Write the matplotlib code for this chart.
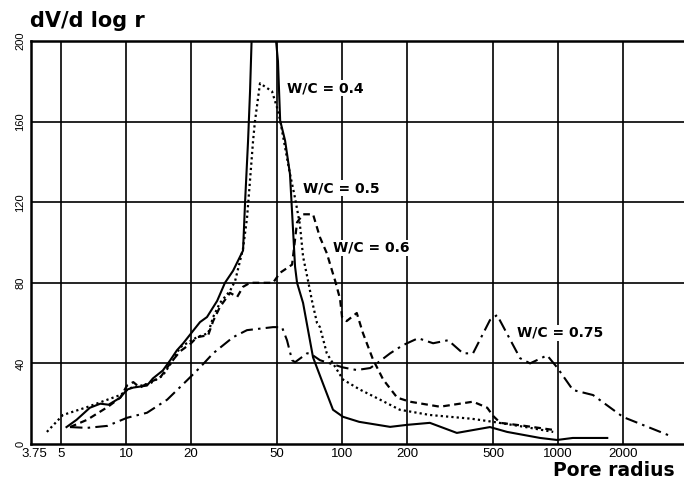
import matplotlib
matplotlib.use("Agg")
import matplotlib.pyplot as plt

# ---- data (pore radius r, dV/d log r) ----
r_04 = [5.3, 5.9, 6.8, 7.6, 8.3, 9.4, 10.1, 10.8, 12.5, 13.3, 14.8, 16, 17.2, 18.4, 20.2,
        22, 23.7, 26.4, 28.7, 31.3, 34.8, 35.6, 36.7, 37.5, 38.5, 48, 50.5, 51.7, 54.5, 57.4,
        58.7, 60.6, 61.9, 66, 69.6, 73.4, 81.6, 90.8, 101, 120, 167, 200, 255, 340, 484,
        581, 826, 990, 1170, 1690]
v_04 = [8.4, 12, 18, 20, 19.5, 23, 27, 28, 29, 32.5, 36.5, 41.5, 46.5, 50, 55.5,
        60.5, 63, 71, 80, 86, 96, 121, 150, 175, 215, 215, 190, 160.5, 150.5, 134,
        115, 88, 80, 70, 56.5, 43, 30, 17, 13.5, 11, 8.5, 9.5, 10.5, 5.5, 8.4,
        6, 3, 2, 3, 3]

r_05 = [4.3, 5.1, 6.6, 8.2, 9.4, 10.4, 12.9, 14.8, 16.5, 17.8, 19.8, 21.3, 24, 25.3, 27.2,
        30.3, 32, 34.8, 36.3, 37.5, 38.7, 39.5, 41.7, 47.4, 50, 51.7, 55.6, 57.4, 60.6, 63.8,
        66, 69.6, 72.6, 76.6, 79, 85, 90.8, 101, 121, 150, 185, 255, 400, 500, 700, 950]
v_05 = [6, 14.4, 18.3, 22, 24.3, 27.7, 30, 34, 41.6, 48, 51, 53, 55, 63, 70,
        76, 81, 97, 112, 131, 150, 160, 179, 175, 167, 160.6, 142, 134, 122, 109,
        93, 81, 71, 60, 58, 45, 40, 32, 27, 22, 17, 14.4, 12.5, 11, 8.5, 6]

r_06 = [5.5, 6.6, 8.2, 9.4, 10.1, 10.8, 11.6, 12.5, 14.4, 16, 17.8, 20, 21.3, 24, 25.3,
        27.2, 30.3, 32.7, 34.8, 37.5, 47.9, 51.7, 58.7, 61.9, 66, 73.4, 79, 85, 89.9, 92.9,
        97.9, 100, 105, 117, 125, 139, 155, 180, 206, 284, 404, 470, 500, 540, 700, 950]
v_06 = [8.4, 12, 18.3, 23, 29, 30.7, 28, 30, 33, 40, 46, 50, 53, 54, 61,
        68, 75, 73, 78, 80, 80, 85, 89, 110, 114, 114, 102.6, 94.7, 86, 81,
        72, 63, 61, 65, 55, 42, 32, 23, 21, 18.5, 21, 18, 14, 10.5, 9, 7]

r_075 = [5.5, 6.6, 8.2, 10.1, 12.5, 15.5, 19.2, 22, 25.3, 31.3, 36.3, 47.9, 52.7, 55.6,
         58.7, 60.6, 68.9, 71, 79, 87.9, 101, 117, 135, 145, 167, 191, 225, 264, 310,
         363, 404, 484, 522, 667, 742, 890, 990, 1172, 1452, 2000, 3400]
v_075 = [8.4, 8, 9, 13, 15.5, 22, 31.7, 38, 45, 53, 56.5, 58, 58, 51.5,
         41.6, 40.6, 45, 45, 41.6, 40, 38, 36.7, 37.7, 40, 45, 49, 52.5, 50, 51.5,
         45, 45, 61.5, 64, 42.6, 40, 44, 38, 26.8, 24.3, 13.4, 3.5]

x_ticks = [3.75, 5, 10, 20, 50, 100, 200, 500, 1000, 2000]
x_tick_labels = ["3.75", "5", "10", "20", "50", "100", "200", "500", "1000", "2000"]
x_grid = [5, 10, 20, 50, 100, 200, 500, 1000, 2000]
y_ticks = [0, 40, 80, 120, 160, 200]
y_grid = [40, 80, 120, 160]
series_labels = ["W/C = 0.4", "W/C = 0.5", "W/C = 0.6", "W/C = 0.75"]

W, H = 684, 482
fig = plt.figure(figsize=(W / 100, H / 100), dpi=100)
ax = fig.add_axes([31 / W, (H - 444) / H, (W - 31) / W, 403 / H])
ax.set_xscale("log")
ax.set_xlim(3.63, 3830)
ax.set_ylim(0, 200)

for g in x_grid:
    ax.axvline(g, color="black", lw=1.2, zorder=1)
for g in y_grid:
    ax.axhline(g, color="black", lw=1.2, zorder=1)

ax.plot(r_04, v_04, color="black", lw=1.5, ls="-", zorder=3)
ax.plot(r_05, v_05, color="black", lw=1.6, ls=(0, (1, 1.4)), zorder=3)
ax.plot(r_06, v_06, color="black", lw=1.6, ls=(0, (3, 2)), zorder=3)
ax.plot(r_075, v_075, color="black", lw=1.5, ls=(0, (6, 2.5, 1.2, 2.5)), zorder=3)

for side in ["left", "top", "bottom"]:
    ax.spines[side].set_linewidth(1.8)
    ax.spines[side].set_color("black")
ax.spines["right"].set_visible(False)

ax.set_xticks(x_ticks)
ax.set_xticklabels(x_tick_labels, family="Liberation Sans", fontsize=9.5)
ax.minorticks_off()
ax.set_yticks(y_ticks)
ax.set_yticklabels([str(t) for t in y_ticks], family="Liberation Sans", fontsize=8,
                   rotation=90, va="center")
ax.tick_params(axis="both", length=0)
ax.tick_params(axis="x", pad=3)
ax.tick_params(axis="y", pad=4)

fig.text(30 / W, 1 - 21 / H, "dV/d log r", fontsize=15, fontweight="bold",
         family="DejaVu Sans", va="center", ha="left")
fig.text(675 / W, 1 - 470 / H, "Pore radius", fontsize=13.5, fontweight="bold",
         family="DejaVu Sans", va="center", ha="right")

label_pos = [(287, 88), (303, 188), (333, 248), (517, 333)]
for (px, py), lab in zip(label_pos, series_labels):
    fig.text(px / W, 1 - py / H, lab, fontsize=10, fontweight="bold", family="DejaVu Sans",
             va="center", ha="left",
             bbox=dict(facecolor="white", edgecolor="none", pad=1.0), zorder=5)

fig.savefig("out.png", dpi=100)
